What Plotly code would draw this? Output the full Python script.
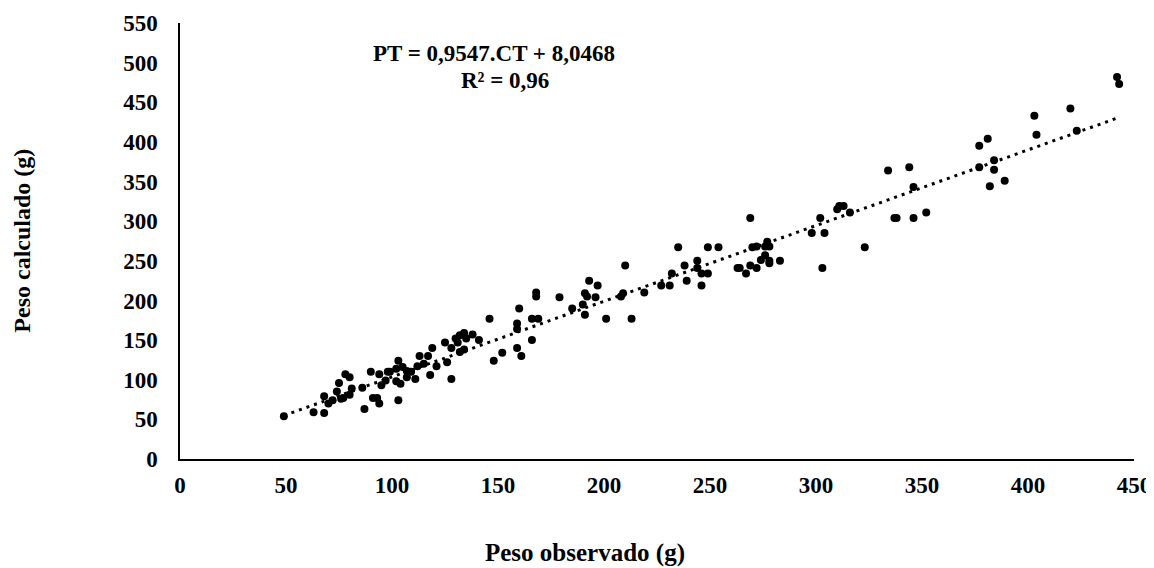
import plotly.graph_objects as go

peso_observado = [
    49, 63, 68, 68, 70, 72, 74, 75, 76, 77, 78, 80, 80, 81, 86, 87, 90, 91, 93, 94,
    94, 95, 97, 98, 99, 102, 103, 103, 104, 102, 105, 107, 107, 109, 111, 113, 112, 115, 117, 118,
    119, 121, 125, 126, 128, 128, 130, 131, 132, 134, 135, 138, 132, 134, 141, 146, 148, 152, 159, 159,
    159, 160, 161, 166, 166, 168, 168, 169, 179, 185, 190, 191, 191, 192, 193, 196, 197, 201, 208, 209,
    210, 213, 219, 227, 231, 232, 235, 238, 239, 244, 244, 246, 246, 249, 249, 254, 263, 264, 267, 269,
    269, 270, 272, 272, 274, 277, 276, 278, 276, 278, 278, 283, 298, 302, 304, 303, 310, 311, 313, 316,
    323, 334, 337, 338, 344, 346, 346, 352, 377, 381, 377, 384, 384, 382, 389, 403, 404, 420, 423, 442,
    443,
]
peso_calculado = [
    54, 59, 58, 79, 70, 74, 85, 96, 76, 77, 107, 103, 81, 89, 90, 63, 110, 77, 77, 70,
    107, 93, 99, 110, 110, 98, 74, 124, 95, 114, 116, 111, 103, 110, 101, 130, 117, 120, 130, 106,
    140, 117, 147, 122, 140, 101, 152, 147, 156, 159, 152, 157, 135, 138, 150, 177, 124, 134, 171, 164,
    140, 190, 130, 177, 150, 210, 205, 177, 204, 190, 195, 182, 209, 205, 225, 204, 219, 177, 205, 209,
    244, 177, 210, 219, 219, 234, 267, 244, 225, 250, 241, 234, 219, 234, 267, 267, 241, 241, 234, 304,
    244, 267, 268, 241, 251, 274, 268, 268, 257, 250, 247, 250, 285, 304, 285, 241, 315, 319, 319, 311,
    267, 364, 304, 304, 368, 343, 304, 311, 395, 404, 368, 377, 365, 344, 351, 433, 409, 442, 414, 482,
    473,
]

# linear trend shown on the chart: PT = 0,9547.CT + 8,0468
slope = 0.9547
intercept = 8.0468
trend_x = [min(peso_observado), max(peso_observado)]
trend_y = [slope * v + intercept for v in trend_x]

serif = "Liberation Serif"

fig = go.Figure()
fig.add_trace(go.Scatter(
    x=peso_observado, y=peso_calculado, mode="markers",
    marker=dict(color="black", size=8), showlegend=False
))
fig.add_trace(go.Scatter(
    x=trend_x, y=trend_y, mode="lines",
    line=dict(color="black", width=3, dash="3px,5px"), showlegend=False
))

def label(text, x, y, size, angle=0):
    fig.add_annotation(xref="paper", yref="paper", x=x, y=y, xanchor="center", yanchor="middle",
                       text="<b>" + text + "</b>", showarrow=False, textangle=angle,
                       font=dict(family=serif, size=size, color="black"))

label("PT = 0,9547.CT + 8,0468", 0.329, 0.931, 23)
label("R² = 0,96", 0.341, 0.869, 23)
label("Peso observado (g)", 0.4245, -0.2156, 25)
label("Peso calculado (g)", -0.166, 0.5, 24, angle=-90)

axis_font = dict(family=serif, size=23, color="black", weight="bold")
fig.update_xaxes(range=[0, 450], tick0=0, dtick=50, showgrid=False, zeroline=False,
                 showline=True, linecolor="black", linewidth=1.5, ticks="",
                 tickfont=axis_font, ticklabelstandoff=5, automargin=False)
fig.update_yaxes(range=[0, 550], tick0=0, dtick=50, showgrid=False, zeroline=False,
                 showline=True, linecolor="black", linewidth=1.5, ticks="",
                 tickfont=axis_font, ticklabelstandoff=16, automargin=False)

# page body has an 8px margin, so the figure starts at (8, 8) in the window
fig.update_layout(
    width=1146, height=560,
    paper_bgcolor="white", plot_bgcolor="white",
    margin=dict(l=172, r=20, t=15, b=109),
)
fig.write_html("out.html")
